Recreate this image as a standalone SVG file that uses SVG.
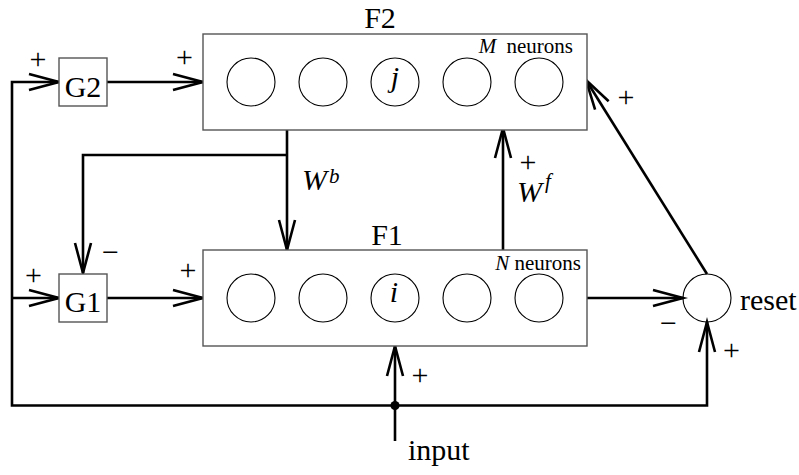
<svg xmlns="http://www.w3.org/2000/svg" width="799" height="475" viewBox="0 0 799 475">
<style>
.box{fill:#fff;stroke:#555;stroke-width:1.4}
.neuron{fill:none;stroke:#000;stroke-width:1.1}
.wire{fill:none;stroke:#000;stroke-width:2.6}
.t{font-family:"Liberation Serif","Times New Roman",serif;font-size:30px;fill:#000}
.s{font-family:"Liberation Serif","Times New Roman",serif;font-size:21px;fill:#000}
.it{font-style:italic}
</style>
<defs>
<marker id="arr" markerUnits="userSpaceOnUse" markerWidth="40" markerHeight="24" viewBox="-32 -12 36 24" refX="0" refY="0" orient="auto-start-reverse">
<path d="M-30,-8 L0,0 L-30,8" fill="none" stroke="#000" stroke-width="2.6"/>
</marker>
</defs>
<g id="connectors">
<path class="wire" d="M59,82 L12,82 L12,405.5 L707,405.5 L707,322" marker-start="url(#arr)" marker-end="url(#arr)"/>
<path class="wire" d="M12,298 L59,298" marker-end="url(#arr)"/>
<path class="wire" d="M107,82 L203,82" marker-end="url(#arr)"/>
<path class="wire" d="M107,298 L203,298" marker-end="url(#arr)"/>
<path class="wire" d="M287,130 L287,250" marker-end="url(#arr)"/>
<path class="wire" d="M287,155 L83,155 L83,273" marker-end="url(#arr)"/>
<path class="wire" d="M503,250 L503,128" marker-end="url(#arr)"/>
<path class="wire" d="M587,298 L683,298" marker-end="url(#arr)"/>
<path class="wire" d="M707,274 L586,80" marker-end="url(#arr)"/>
<path class="wire" d="M395,441 L395,346" marker-end="url(#arr)"/>
<circle cx="395" cy="405.5" r="4.6" fill="#000"/>
<text class="t" x="38" y="69" text-anchor="middle">+</text>
<text class="t" x="184.5" y="67" text-anchor="middle">+</text>
<text class="t" x="33.5" y="285" text-anchor="middle">+</text>
<text class="t" x="188" y="280" text-anchor="middle">+</text>
<text class="t" x="110.5" y="262" text-anchor="middle">−</text>
<text class="t" x="528" y="172" text-anchor="middle">+</text>
<text class="t" x="626" y="107" text-anchor="middle">+</text>
<text class="t" x="420" y="385" text-anchor="middle">+</text>
<text class="t" x="731.5" y="360" text-anchor="middle">+</text>
<text class="t" x="668.5" y="333" text-anchor="middle">−</text>
<text class="t" x="302" y="190"><tspan class="it">W</tspan><tspan class="s it" dy="-7" dx="2">b</tspan></text>
<text class="t" x="517" y="202"><tspan class="it">W</tspan><tspan class="s it" dy="-14" dx="3">f</tspan></text>
</g>
<g id="F2">
<text class="t" x="380" y="28" text-anchor="middle">F2</text>
<rect class="box" x="203" y="34" width="384" height="96"/>
<circle class="neuron" cx="251" cy="82" r="24"/>
<circle class="neuron" cx="323" cy="82" r="24"/>
<circle class="neuron" cx="395" cy="82" r="24"/>
<circle class="neuron" cx="467" cy="82" r="24"/>
<circle class="neuron" cx="539" cy="82" r="24"/>
<text class="t it" x="395" y="87" text-anchor="middle" font-size="24">j</text>
<text class="s" x="573" y="53" text-anchor="end"><tspan class="it">M</tspan><tspan dx="5"> neurons</tspan></text>
</g>
<g id="F1">
<text class="t" x="387" y="245" text-anchor="middle">F1</text>
<rect class="box" x="203" y="250" width="384" height="96"/>
<circle class="neuron" cx="251" cy="298" r="24"/>
<circle class="neuron" cx="323" cy="298" r="24"/>
<circle class="neuron" cx="395" cy="298" r="24"/>
<circle class="neuron" cx="467" cy="298" r="24"/>
<circle class="neuron" cx="539" cy="298" r="24"/>
<text class="t it" x="394" y="302" text-anchor="middle" font-size="24">i</text>
<text class="s" x="581" y="270" text-anchor="end"><tspan class="it">N</tspan> neurons</text>
</g>
<g id="G2">
<rect class="box" x="59" y="58" width="48" height="48"/>
<text class="t" x="83" y="97" text-anchor="middle">G2</text>
</g>
<g id="G1">
<rect class="box" x="59" y="274" width="48" height="48"/>
<text class="t" x="83" y="312" text-anchor="middle">G1</text>
</g>
<g id="reset">
<circle class="neuron" cx="707" cy="298" r="24"/>
<text class="t" x="740" y="310">reset</text>
</g>
<g id="input">
<text class="t" x="408" y="460">input</text>
</g>
</svg>
